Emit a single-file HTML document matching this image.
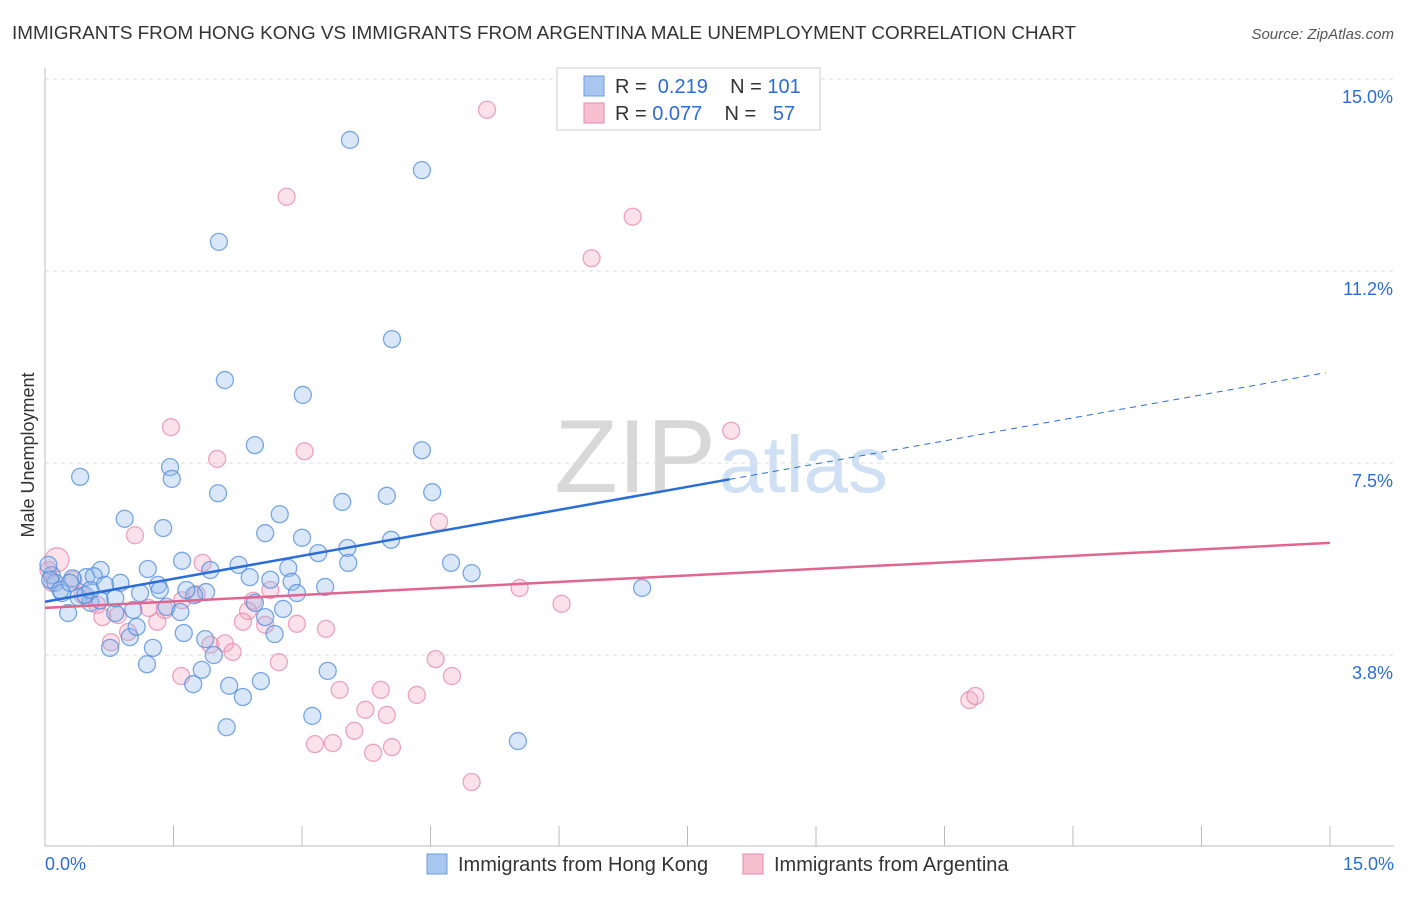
<!DOCTYPE html>
<html><head><meta charset="utf-8"><style>
body{margin:0;background:#fff;font-family:"Liberation Sans",sans-serif;}
svg text{font-family:"Liberation Sans",sans-serif;}
</style></head><body>
<svg id="chart" width="1406" height="892">
<text x="12" y="39" font-size="18" fill="#333" textLength="1064" lengthAdjust="spacingAndGlyphs">IMMIGRANTS FROM HONG KONG VS IMMIGRANTS FROM ARGENTINA MALE UNEMPLOYMENT CORRELATION CHART</text>
<text x="1394" y="39" font-size="15" fill="#555" font-style="italic" text-anchor="end">Source: ZipAtlas.com</text>
<text x="34" y="455" font-size="18" fill="#333" transform="rotate(-90 34 455)" text-anchor="middle">Male Unemployment</text>
<text x="716" y="492" font-size="104" fill="#d8d8d8" text-anchor="end" font-family="Liberation Serif">ZIP</text>
<text x="719" y="492" font-size="80" fill="#cfe0f5">atlas</text>
<g id="grid"></g><g id="pts"></g><g id="lines"></g>
<g>
<rect x="557" y="68" width="263" height="62" fill="#fff" stroke="#ccc"/>
<rect x="584" y="76" width="20" height="20" fill="#a9c6ef" stroke="#6a9ee0"/>
<text x="615" y="93" font-size="20" fill="#333">R = <tspan fill="#2a6dd6">&#160;0.219</tspan>&#160;&#160;&#160; N = <tspan fill="#2a6dd6">101</tspan></text>
<rect x="584" y="103" width="20" height="20" fill="#f6c0d1" stroke="#e68aa7"/>
<text x="615" y="120" font-size="20" fill="#333">R = <tspan fill="#2a6dd6">0.077</tspan>&#160;&#160;&#160; N = <tspan fill="#2a6dd6">&#160;&#160;57</tspan></text>
</g>
<g>
<rect x="427" y="854" width="20" height="20" fill="#a9c6ef" stroke="#6a9ee0"/>
<text x="458" y="871" font-size="20" fill="#333">Immigrants from Hong Kong</text>
<rect x="743" y="854" width="20" height="20" fill="#f6c0d1" stroke="#e68aa7"/>
<text x="774" y="871" font-size="20" fill="#333">Immigrants from Argentina</text>
</g>
</svg>
<script>
const yTicks=[3.75,7.5,11.25,15];
const yTickLabels=["3.8%","7.5%","11.2%","15.0%"];
const xTickVals=[0,1.5,3,4.5,6,7.5,9,10.5,12,13.5,15];
const blueX=[3.56,4.40,2.03,4.05,2.10,3.01,2.45,4.40,1.46,0.41,1.48,2.02,3.47,3.99,4.52,0.93,1.38,2.74,2.57,3.00,3.53,4.04,3.19,1.60,3.54,4.74,4.98,1.20,1.93,2.26,2.84,0.65,0.48,0.08,0.32,0.57,0.88,0.70,1.32,1.34,2.39,2.63,2.88,3.27,2.94,1.88,1.74,1.65,0.12,0.20,0.39,0.53,0.27,0.82,1.03,1.42,1.58,1.11,2.45,2.78,2.57,2.68,1.62,1.87,0.99,0.76,1.26,1.07,1.97,1.19,1.83,3.30,1.73,2.15,2.52,2.31,3.12,2.12,5.52,6.97,0.04,0.06,0.18,0.64,0.47,0.82,0.29,0.53];
const blueY=[13.79,13.20,11.80,9.90,9.10,8.81,7.83,7.73,7.40,7.21,7.17,6.89,6.72,6.84,6.91,6.39,6.21,6.48,6.11,6.02,5.82,5.98,5.72,5.57,5.53,5.53,5.33,5.41,5.39,5.49,5.43,5.39,5.25,5.29,5.23,5.27,5.14,5.10,5.10,5.00,5.25,5.20,5.16,5.06,4.94,4.96,4.90,5.00,5.14,4.94,4.86,4.75,4.55,4.55,4.61,4.67,4.57,4.94,4.75,4.63,4.47,4.14,4.16,4.04,4.08,3.87,3.87,4.28,3.73,3.55,3.44,3.42,3.16,3.13,3.22,2.91,2.54,2.32,2.05,5.04,5.49,5.20,5.00,4.80,4.90,4.84,5.14,5.00];
const pinkX=[5.16,2.82,6.86,6.38,1.47,3.03,2.01,8.01,4.60,1.05,0.14,1.84,0.33,0.04,0.08,0.44,0.61,0.67,0.85,0.97,0.77,1.31,1.40,1.21,1.77,1.60,1.93,2.10,2.19,2.43,2.37,2.31,2.57,2.63,2.73,2.94,3.28,1.59,4.56,4.75,3.44,3.92,4.34,3.74,3.99,3.61,3.15,3.36,3.83,4.05,4.98,5.54,6.03,10.79,10.86];
const pinkY=[14.38,12.68,12.29,11.48,8.18,7.71,7.56,8.11,6.33,6.07,5.59,5.53,5.20,5.39,5.14,4.90,4.71,4.47,4.51,4.18,3.98,4.38,4.61,4.65,4.92,4.80,3.93,3.96,3.79,4.79,4.59,4.38,4.32,5.00,3.59,4.34,4.24,3.32,3.65,3.32,3.05,3.05,2.95,2.66,2.56,2.25,1.99,2.01,1.82,1.93,1.25,5.04,4.73,2.85,2.93];
const blueTrend=[4.77,9.26];
const pinkTrend=[4.65,5.92];
const blueSolidEnd=7.99;
const X0=45,X1=1330,YB=846,YT=78;
const sx=v=>X0+(X1-X0)*v/15, sy=v=>YB-(YB-YT)*v/15;
const NS="http://www.w3.org/2000/svg";
function mk(t,a,p){const e=document.createElementNS(NS,t);for(const k in a)e.setAttribute(k,a[k]);p.appendChild(e);return e;}
const grid=document.getElementById('grid');
const ax=mk('line',{x1:X0,y1:YB,x2:1394,y2:YB,stroke:'#bbb'},grid);


const ay=mk('line',{x1:X0,y1:68,x2:X0,y2:YB,stroke:'#bbb'},grid);


yTicks.forEach((v,i)=>{
 const g=mk('line',{x1:X0,y1:sy(v)+1,x2:1394,y2:sy(v)+1,stroke:'#ddd','stroke-dasharray':'4,4'},grid);
 
 
 const t=mk('text',{x:1393,y:sy(v)+25,'font-size':18,fill:'#2a6dd6','text-anchor':'end'},grid);t.textContent=yTickLabels[i];
 
 
});
xTickVals.forEach(v=>{
 const l=mk('line',{x1:sx(v),y1:YB,x2:sx(v),y2:YB-20,stroke:'#bbb'},grid);
 
 
});
const xl0=mk('text',{x:45,y:870,'font-size':18,fill:'#2a6dd6'},grid);xl0.textContent='0.0%';


const xl1=mk('text',{x:1394,y:870,'font-size':18,fill:'#2a6dd6','text-anchor':'end'},grid);xl1.textContent='15.0%';


const pts=document.getElementById('pts');
pinkX.forEach((x,i)=>{
 const c=mk('circle',{cx:sx(x),cy:sy(pinkY[i]),r:(i==10?12:8.5),fill:'rgba(244,170,195,0.35)',stroke:'rgba(230,130,165,0.7)','stroke-width':1.3},pts);
 
 
});
blueX.forEach((x,i)=>{
 const c=mk('circle',{cx:sx(x),cy:sy(blueY[i]),r:8.5,fill:'rgba(150,185,235,0.35)',stroke:'rgba(80,140,220,0.75)','stroke-width':1.3},pts);
 
 
});
const lines=document.getElementById('lines');
const bAt=x=>blueTrend[0]+(blueTrend[1]-blueTrend[0])*x/15;
const b1=mk('line',{x1:sx(0),y1:sy(bAt(0)),x2:sx(blueSolidEnd),y2:sy(bAt(blueSolidEnd)),stroke:'#2a6dd6','stroke-width':2.5},lines);


const b2=mk('line',{x1:sx(blueSolidEnd),y1:sy(bAt(blueSolidEnd)),x2:sx(14.95),y2:sy(bAt(14.95)),stroke:'#2a6dd6','stroke-width':1,'stroke-dasharray':'6,5'},lines);


const p1=mk('line',{x1:sx(0),y1:sy(pinkTrend[0]),x2:sx(15),y2:sy(pinkTrend[1]),stroke:'#e06690','stroke-width':2.5},lines);


</script>
</body></html>
